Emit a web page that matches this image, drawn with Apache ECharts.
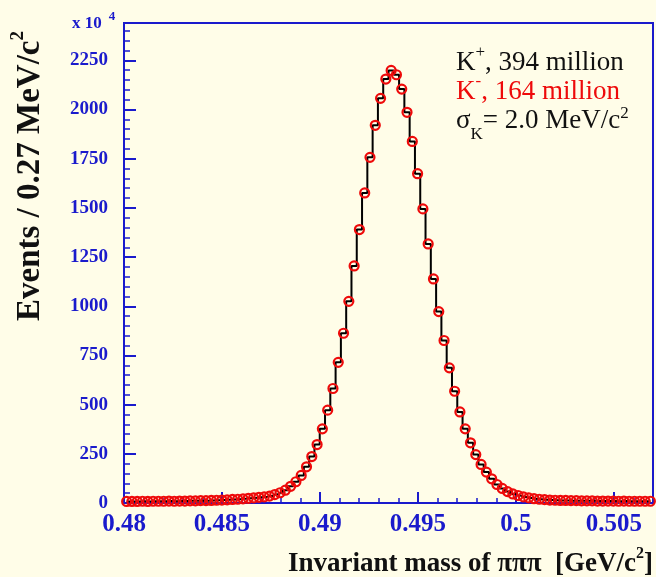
<!DOCTYPE html>
<html lang="en">
<head>
    <meta charset="UTF-8">
    <title>K to pi pi pi mass</title>
    <script src="https://cdn.jsdelivr.net/npm/echarts@6/dist/echarts.min.js"></script>
</head>
<style>
    *{
        margin: 0;
        padding: 0;
    }
    html,body{
        width: 100%;
        height: 100%;
        overflow: hidden;
        background: #fffde8;
    }
    .container{
        width: 656px;
        height: 577px;
    }
</style>
<body>
<div class="container"></div>
<script>
    // histogram: 100 bins of 0.27 MeV starting at 0.48 GeV
    let massLow = 0.48;
    let binWidth = 0.00027;
    let counts = [
        8, 8, 8, 9, 8, 9, 9, 9, 10, 9,
        10, 10, 11, 11, 12, 12, 13, 14, 15, 16,
        18, 19, 21, 24, 26, 29, 31, 35, 43, 52,
        65, 85, 108, 140, 184, 236, 297, 377, 472, 582,
        715, 863, 1025, 1205, 1390, 1576, 1757, 1920, 2057, 2155,
        2199, 2177, 2104, 1986, 1838, 1674, 1495, 1317, 1139, 973,
        826, 687, 568, 463, 377, 306, 246, 196, 157, 123,
        94, 74, 58, 46, 38, 31, 26, 22, 19, 17,
        15, 14, 13, 13, 12, 12, 11, 11, 11, 10,
        10, 10, 10, 9, 10, 9, 9, 9, 9, 9
    ];
    let xTicks = [0.48, 0.485, 0.49, 0.495, 0.5, 0.505];
    let yTicks = [0, 250, 500, 750, 1000, 1250, 1500, 1750, 2000, 2250];

    let blue = '#1a1acc';
    let red = '#ee0a0a';
    let serif = '"Liberation Serif", "Times New Roman", serif';

    let points = counts.map((c, i) => [massLow + binWidth * (i + 0.5), c]);

    let container = document.querySelector('.container');
    let mycharts = echarts.init(container);

    let options = {
        backgroundColor: '#fffde8',
        animation: false,
        grid: {
            left: 124,
            right: 3,
            top: 23,
            bottom: 74,
            show: true,
            borderColor: blue,
            borderWidth: 2,
            backgroundColor: '#fffde8'
        },
        xAxis: {
            type: 'value',
            min: 0.48,
            max: 0.507,
            interval: 0.005,
            axisLine: {lineStyle: {color: blue, width: 2}},
            axisTick: {inside: true, length: 11, lineStyle: {color: blue, width: 2}},
            minorTick: {show: true, splitNumber: 5, length: 5, lineStyle: {color: blue, width: 1.5}},
            splitLine: {show: false},
            axisLabel: {
                color: blue,
                fontFamily: serif,
                fontWeight: 'bold',
                fontSize: 25,
                margin: 9,
                showMaxLabel: false,
                formatter: function (v) {
                    let hit = xTicks.find(t => Math.abs(t - v) < 1e-7);
                    return hit === undefined ? '' : String(hit);
                }
            }
        },
        yAxis: {
            type: 'value',
            min: 0,
            max: 2440,
            interval: 250,
            axisLine: {lineStyle: {color: blue, width: 2}},
            axisTick: {inside: true, length: 12, lineStyle: {color: blue, width: 2}},
            minorTick: {show: true, splitNumber: 5, length: 6, lineStyle: {color: blue, width: 1.5}},
            splitLine: {show: false},
            axisLabel: {
                color: blue,
                fontFamily: serif,
                fontWeight: 'bold',
                fontSize: 19,
                margin: 16,
                showMaxLabel: false,
                formatter: function (v) {
                    return yTicks.indexOf(v) >= 0 ? String(v) : '';
                }
            }
        },
        graphic: [
            {
                type: 'text',
                x: 72, y: 10,
                style: {
                    text: '{b|x 10}{s|4}',
                    fill: blue,
                    rich: {
                        b: {fontFamily: serif, fontWeight: 'bold', fontSize: 17, fill: blue, lineHeight: 22, verticalAlign: 'bottom'},
                        s: {fontFamily: serif, fontWeight: 'bold', fontSize: 13, fill: blue, lineHeight: 22, verticalAlign: 'top', padding: [0, 0, 0, 7]}
                    }
                }
            },
            {
                type: 'text',
                x: 28, y: 176,
                rotation: Math.PI / 2,
                style: {
                    text: '{b|Events / 0.27 MeV/c}{s|2}',
                    align: 'center',
                    verticalAlign: 'middle',
                    rich: {
                        b: {fontFamily: serif, fontWeight: 'bold', fontSize: 33, fill: '#111', lineHeight: 38, verticalAlign: 'bottom'},
                        s: {fontFamily: serif, fontWeight: 'bold', fontSize: 19, fill: '#111', lineHeight: 38, verticalAlign: 'top'}
                    }
                }
            },
            {
                type: 'text',
                x: 653, y: 562,
                style: {
                    text: '{b|Invariant mass of πππ  [GeV/c}{s|2}{b|]}',
                    align: 'right',
                    verticalAlign: 'middle',
                    rich: {
                        b: {fontFamily: serif, fontWeight: 'bold', fontSize: 27, fill: '#111', lineHeight: 32, verticalAlign: 'bottom'},
                        s: {fontFamily: serif, fontWeight: 'bold', fontSize: 16, fill: '#111', lineHeight: 32, verticalAlign: 'top'}
                    }
                }
            },
            {
                type: 'text',
                x: 456, y: 44,
                style: {
                    text: '{b|K}{s|+}{b|, 394 million}',
                    rich: {
                        b: {fontFamily: serif, fontSize: 27, fill: '#111', lineHeight: 32, verticalAlign: 'bottom'},
                        s: {fontFamily: serif, fontSize: 17, fill: '#111', lineHeight: 32, verticalAlign: 'top'}
                    }
                }
            },
            {
                type: 'text',
                x: 456, y: 73,
                style: {
                    text: '{b|K}{s|-}{b|, 164 million}',
                    rich: {
                        b: {fontFamily: serif, fontSize: 27, fill: red, lineHeight: 32, verticalAlign: 'bottom'},
                        s: {fontFamily: serif, fontSize: 17, fill: red, lineHeight: 32, verticalAlign: 'top'}
                    }
                }
            },
            {
                type: 'text',
                x: 456, y: 105,
                style: {
                    text: '{b|σ}{k|K}{b|= 2.0 MeV/c}{s|2}',
                    rich: {
                        b: {fontFamily: serif, fontSize: 27, fill: '#111', lineHeight: 32, verticalAlign: 'middle'},
                        k: {fontFamily: serif, fontSize: 17, fill: '#111', lineHeight: 32, verticalAlign: 'bottom', padding: [0, 0, -6, 0]},
                        s: {fontFamily: serif, fontSize: 17, fill: '#111', lineHeight: 32, verticalAlign: 'top'}
                    }
                }
            }
        ],
        series: [
            {
                name: 'K',
                type: 'line',
                step: 'middle',
                data: points,
                showAllSymbol: true,
                symbol: 'circle',
                symbolSize: 9,
                lineStyle: {color: '#000', width: 2},
                itemStyle: {color: 'rgba(0,0,0,0)', borderColor: red, borderWidth: 2.2},
                emphasis: {disabled: true}
            }
        ]
    };
    mycharts.setOption(options);
</script>
</body>
</html>
